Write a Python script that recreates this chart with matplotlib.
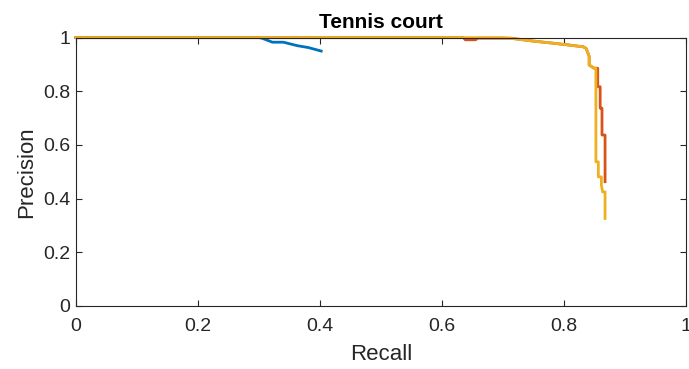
import matplotlib
matplotlib.use("Agg")
import matplotlib.pyplot as plt

# precision/recall curves for the three detectors
blue_recall = [0.0, 0.30, 0.305, 0.322, 0.34, 0.363, 0.381, 0.402]
blue_precision = [1.0, 1.0, 0.998, 0.983, 0.983, 0.970, 0.963, 0.950]

red_recall = [0.0, 0.635, 0.638, 0.655, 0.658, 0.713, 0.746, 0.783, 0.806, 0.82,
              0.831, 0.836, 0.841, 0.841, 0.849, 0.855, 0.855, 0.859, 0.859,
              0.862, 0.862, 0.867, 0.867]
red_precision = [1.0, 1.0, 0.992, 0.992, 0.998, 0.998, 0.988, 0.979, 0.973, 0.969,
                 0.966, 0.960, 0.930, 0.898, 0.886, 0.886, 0.817, 0.817, 0.737,
                 0.737, 0.637, 0.637, 0.463]

yellow_recall = [0.0, 0.70, 0.713, 0.746, 0.783, 0.806, 0.82, 0.831, 0.836, 0.841,
                 0.841, 0.849, 0.852, 0.852, 0.856, 0.856, 0.861, 0.861, 0.863,
                 0.867, 0.867]
yellow_precision = [1.0, 1.0, 0.997, 0.988, 0.979, 0.973, 0.969, 0.966, 0.960, 0.930,
                    0.898, 0.886, 0.886, 0.537, 0.537, 0.481, 0.481, 0.450, 0.425,
                    0.425, 0.326]

ticks = [0, 0.2, 0.4, 0.6, 0.8, 1]
tick_labels = ["0", "0.2", "0.4", "0.6", "0.8", "1"]

plt.rcParams['font.family'] = ['Liberation Sans', 'DejaVu Sans']
axis_gray = (0.15, 0.15, 0.15)

fig = plt.figure(figsize=(6.89, 3.69), dpi=100)
ax = fig.add_axes([0.110, 0.171, 0.886, 0.727])

# lines are not clipped so the precision=1 stretch shows in full over the top edge
lw = 2.0
ax.plot(blue_recall, blue_precision, color=(0.0, 0.447, 0.741), linewidth=lw, clip_on=False)
ax.plot(red_recall, red_precision, color=(0.850, 0.325, 0.098), linewidth=lw, clip_on=False)
ax.plot(yellow_recall, yellow_precision, color=(0.929, 0.694, 0.125), linewidth=lw, clip_on=False)

ax.set_xlim(0, 1)
ax.set_ylim(0, 1)
ax.set_xticks(ticks)
ax.set_xticklabels(tick_labels)
ax.set_yticks(ticks)
ax.set_yticklabels(tick_labels)

ax.tick_params(direction='in', length=4, width=0.8, colors=axis_gray,
               labelsize=14, top=True, right=True)
ax.tick_params(axis='x', pad=9)
ax.tick_params(axis='y', pad=4)
for sp in ax.spines.values():
    sp.set_color(axis_gray)
    sp.set_linewidth(0.8)

ax.set_xlabel("Recall", fontsize=16, color=axis_gray, labelpad=6)
ax.set_ylabel("Precision", fontsize=16, color=axis_gray, labelpad=4)
ax.set_title("Tennis court", fontsize=15, fontweight='bold', pad=7)

fig.savefig("out.png", dpi=100)
